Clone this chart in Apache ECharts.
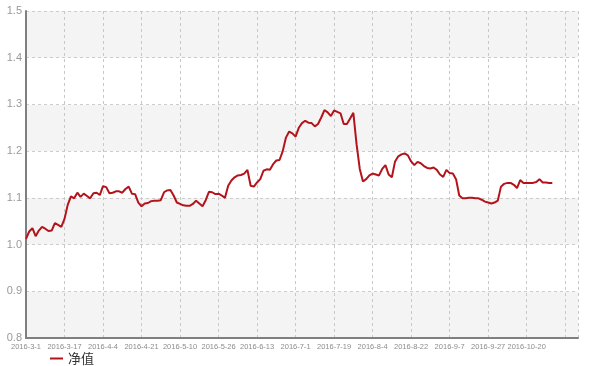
<!DOCTYPE html>
<html><head><meta charset="utf-8">
<script src="https://cdn.jsdelivr.net/npm/echarts@6/dist/echarts.min.js"></script>
<style>html,body{margin:0;padding:0;background:#fff}#c{width:590px;height:366px}</style>
</head><body><div id="c"></div>
<script>
var dates = [
'2016-3-1','2016-3-2','2016-3-3','2016-3-4','2016-3-7','2016-3-8','2016-3-9','2016-3-10','2016-3-11','2016-3-14','2016-3-15','2016-3-16','2016-3-17',
'2016-3-18','2016-3-21','2016-3-22','2016-3-23','2016-3-24','2016-3-25','2016-3-28','2016-3-29','2016-3-30','2016-3-31','2016-4-1','2016-4-4',
'2016-4-6','2016-4-7','2016-4-8','2016-4-11','2016-4-12','2016-4-13','2016-4-14','2016-4-15','2016-4-18','2016-4-19','2016-4-20','2016-4-21',
'2016-4-22','2016-4-25','2016-4-26','2016-4-27','2016-4-28','2016-4-29','2016-5-3','2016-5-4','2016-5-5','2016-5-6','2016-5-9','2016-5-10',
'2016-5-11','2016-5-12','2016-5-13','2016-5-16','2016-5-17','2016-5-18','2016-5-19','2016-5-20','2016-5-23','2016-5-24','2016-5-25','2016-5-26',
'2016-5-27','2016-5-30','2016-5-31','2016-6-1','2016-6-2','2016-6-3','2016-6-6','2016-6-7','2016-6-8','2016-6-9','2016-6-10','2016-6-13',
'2016-6-14','2016-6-15','2016-6-16','2016-6-17','2016-6-21','2016-6-22','2016-6-23','2016-6-24','2016-6-28','2016-6-29','2016-6-30','2016-7-1',
'2016-7-4','2016-7-5','2016-7-6','2016-7-7','2016-7-8','2016-7-11','2016-7-12','2016-7-13','2016-7-14','2016-7-15','2016-7-18','2016-7-19',
'2016-7-20','2016-7-21','2016-7-22','2016-7-25','2016-7-26','2016-7-27','2016-7-28','2016-7-29','2016-8-1','2016-8-2','2016-8-3','2016-8-4',
'2016-8-5','2016-8-8','2016-8-9','2016-8-10','2016-8-11','2016-8-12','2016-8-15','2016-8-16','2016-8-17','2016-8-18','2016-8-19','2016-8-22',
'2016-8-23','2016-8-24','2016-8-25','2016-8-26','2016-8-29','2016-8-30','2016-8-31','2016-9-1','2016-9-2','2016-9-5','2016-9-6','2016-9-7',
'2016-9-8','2016-9-9','2016-9-12','2016-9-13','2016-9-14','2016-9-19','2016-9-20','2016-9-21','2016-9-22','2016-9-23','2016-9-26','2016-9-27',
'2016-9-28','2016-9-29','2016-9-30','2016-10-10','2016-10-11','2016-10-12','2016-10-13','2016-10-14','2016-10-17','2016-10-18','2016-10-19','2016-10-20',
'2016-10-21','2016-10-24','2016-10-25','2016-10-26','2016-10-27','2016-10-28','2016-10-31','2016-11-1','2016-11-2','2016-11-3','2016-11-4','2016-11-7',
'2016-11-8','2016-11-9','2016-11-10','2016-11-11'
];
var navValues = [
1.012,1.028,1.035,1.018,1.030,1.038,1.034,1.029,1.030,1.046,1.042,1.038,1.055,
1.085,1.103,1.099,1.111,1.102,1.109,1.104,1.099,1.110,1.111,1.106,1.125,
1.123,1.110,1.111,1.114,1.114,1.111,1.119,1.124,1.109,1.108,1.090,1.082,
1.088,1.089,1.093,1.094,1.094,1.095,1.112,1.116,1.117,1.105,1.090,1.087,
1.084,1.083,1.083,1.087,1.094,1.088,1.082,1.095,1.113,1.112,1.108,1.109,
1.105,1.100,1.126,1.137,1.144,1.148,1.149,1.152,1.160,1.126,1.124,1.133,
1.140,1.158,1.161,1.160,1.172,1.180,1.181,1.200,1.229,1.242,1.238,1.231,
1.250,1.260,1.265,1.261,1.260,1.253,1.258,1.272,1.288,1.283,1.275,1.287,
1.284,1.281,1.258,1.258,1.270,1.282,1.215,1.162,1.135,1.140,1.148,1.152,
1.150,1.148,1.162,1.170,1.150,1.144,1.178,1.189,1.193,1.195,1.191,1.178,
1.170,1.177,1.174,1.168,1.164,1.163,1.165,1.160,1.150,1.145,1.160,1.153,
1.152,1.140,1.105,1.099,1.099,1.100,1.100,1.099,1.099,1.096,1.092,1.090,
1.088,1.090,1.094,1.124,1.130,1.132,1.132,1.128,1.121,1.138,1.132,1.132,
1.132,1.132,1.134,1.140,1.133,1.133,1.132,1.132
];
var seriesName = '净值';
var yTicks = {min: 0.8, max: 1.5, step: 0.1};
var labelStep = 12;
var lastLabelIndex = 156;

var chart = echarts.init(document.getElementById('c'), null, {renderer: 'canvas'});
chart.setOption({
  animation: false,
  backgroundColor: '#fff',
  grid: {left: 26, right: 12, top: 11, bottom: 28, containLabel: false},
  legend: {
    data: [seriesName], left: 45, top: 347, icon: 'rect', itemWidth: 13, itemHeight: 2,
    itemGap: 10,
    textStyle: {color: '#333', fontSize: 13, fontFamily: 'Noto Sans CJK SC'}
  },
  xAxis: {
    type: 'category', data: dates, boundaryGap: false,
    axisLine: {lineStyle: {color: '#7f7f7f', width: 2}},
    axisTick: {show: false},
    axisLabel: {
      color: '#8c8c8c', fontSize: 7.5, margin: 5, fontFamily: 'Liberation Sans',
      interval: function (i) { return i % labelStep === 0 && i <= lastLabelIndex; }
    },
    splitLine: {
      show: true,
      interval: function (i) { return i % labelStep === 0 || i === dates.length - 1; },
      lineStyle: {color: '#c8c8c8', type: [3, 3], width: 1}
    }
  },
  yAxis: {
    type: 'value', min: yTicks.min, max: yTicks.max, interval: yTicks.step,
    axisLine: {show: true, lineStyle: {color: '#7f7f7f', width: 2}},
    axisTick: {show: false},
    axisLabel: {color: '#999', fontSize: 11, margin: 4, fontFamily: 'Liberation Sans',
      formatter: function (v) { return v.toFixed(1); }},
    splitLine: {lineStyle: {color: '#cccccc', type: [3, 3], width: 1}},
    splitArea: {show: true, areaStyle: {color: ['#f4f4f4', '#ffffff']}}
  },
  series: [{
    name: seriesName, type: 'line', data: navValues, showSymbol: false, symbol: 'none',
    lineStyle: {color: '#b3141c', width: 2}, itemStyle: {color: '#b3141c'}
  }]
});
</script></body></html>
